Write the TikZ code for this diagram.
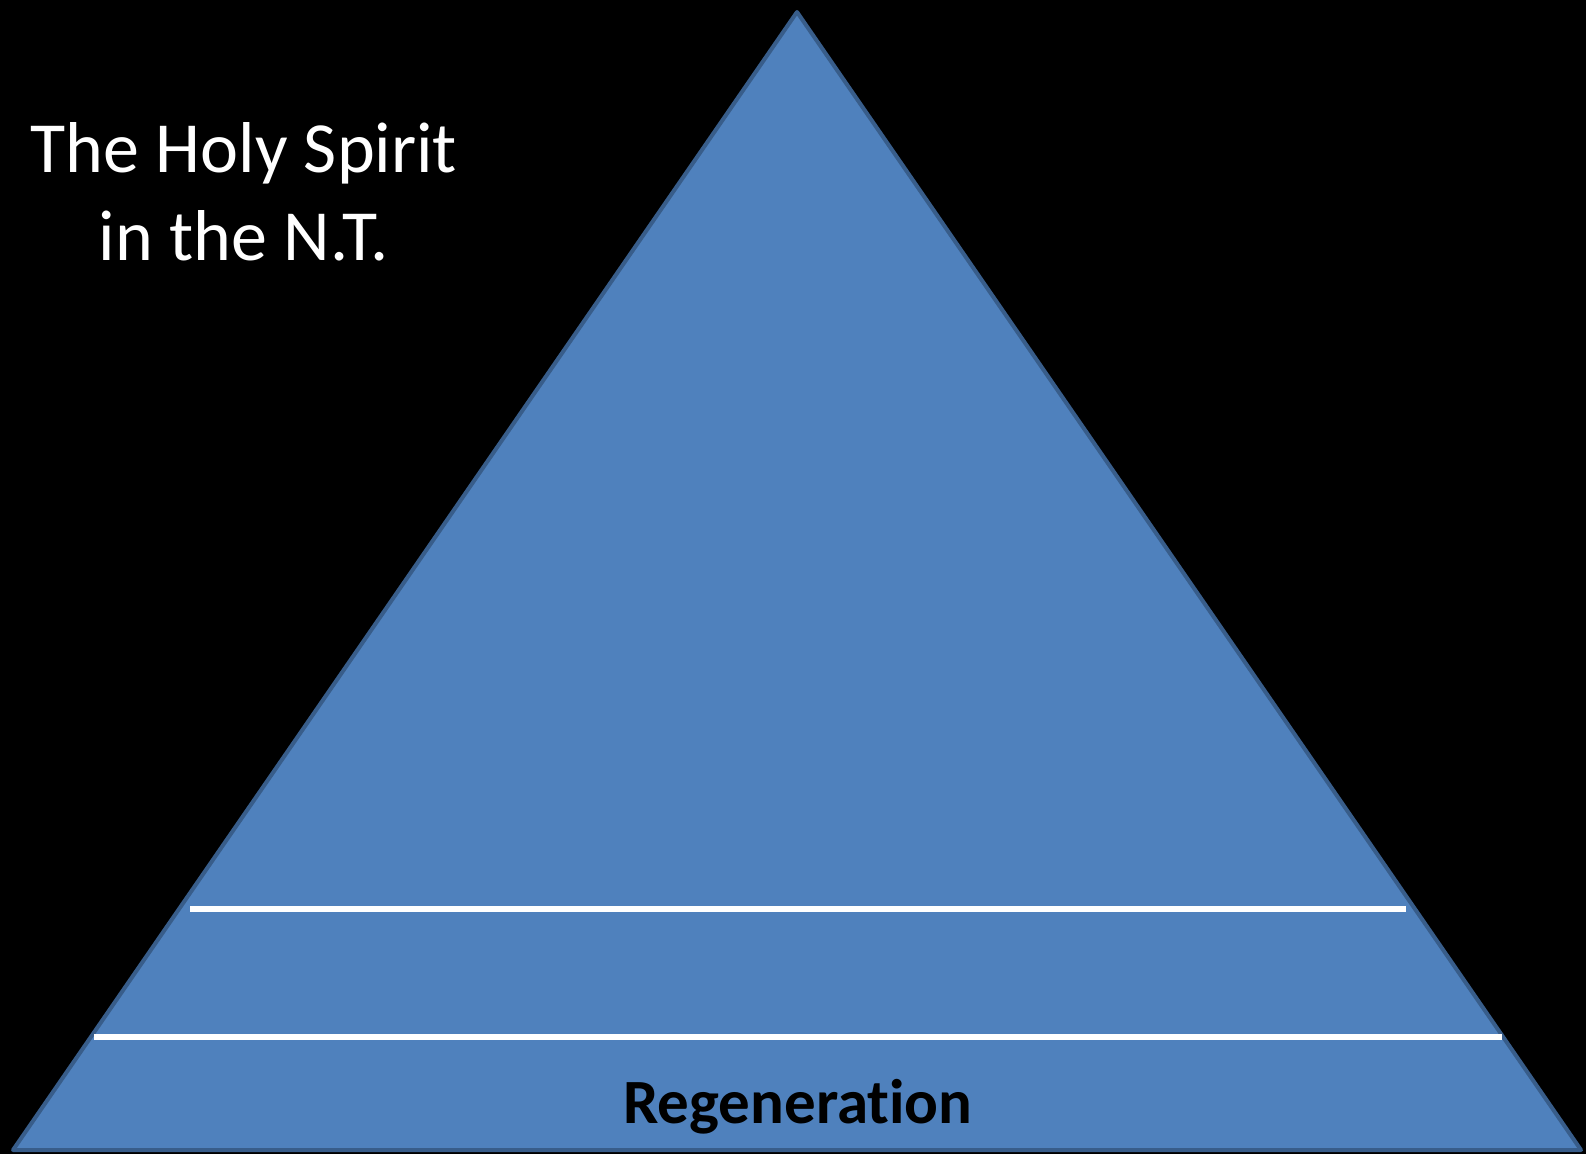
\documentclass[tikz,border=0pt]{standalone}
\usepackage{fontspec}
\setmainfont[RawFeature=-liga]{Carlito}
\usepackage{xcolor}
\definecolor{pyrfill}{HTML}{4F81BD}
\definecolor{pyrdraw}{HTML}{385D8A}

\begin{document}
\begin{tikzpicture}[x=1pt,y=-1pt,
    pyramid/.style={fill=pyrfill,draw=pyrdraw,line width=4pt,line join=round},
    tier line/.style={draw=white,line width=6pt},
    title/.style={text=white,align=center,inner sep=0pt,
        font=\fontsize{72}{88}\selectfont},
    tier label/.style={text=black,inner sep=0pt,
        font=\fontsize{63}{70}\selectfont\bfseries}]
    \fill[black] (0,0) rectangle (1586,1154);
    \useasboundingbox (0,0) rectangle (1586,1154);

    \coordinate (apex) at (797,12);
    \coordinate (bl) at (13,1150);
    \coordinate (br) at (1581,1150);
    \draw[pyramid] (apex) -- (br) -- (bl) -- cycle;

    % tier separators
    \coordinate (t1l) at (190,909);  \coordinate (t1r) at (1406,909);
    \coordinate (t2l) at (94,1037);  \coordinate (t2r) at (1502,1037);
    \draw[tier line] (t1l) -- (t1r);
    \draw[tier line] (t2l) -- (t2r);

    \node[tier label,anchor=base] (regen) at (798,1123) {Regeneration};
    \node[title,anchor=base] (head) at (244,260) {The Holy Spirit\\in the N.T.};
\end{tikzpicture}
\end{document}
